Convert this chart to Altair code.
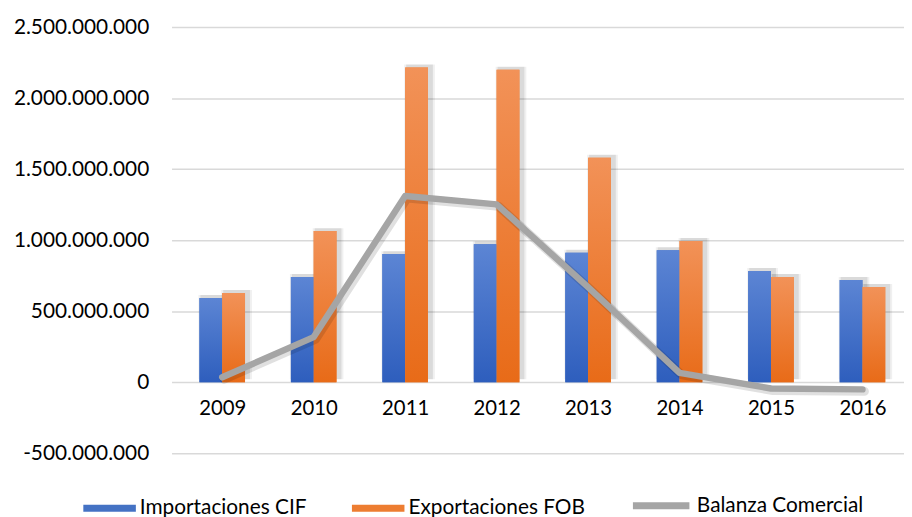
import altair as alt
import pandas as pd

years = [2009, 2010, 2011, 2012, 2013, 2014, 2015, 2016]
importaciones = [594e6, 741e6, 902e6, 972e6, 912e6, 930e6, 783e6, 720e6]
exportaciones = [629e6, 1064e6, 2216e6, 2200e6, 1580e6, 994e6, 741e6, 671e6]
balanza = [35e6, 318e6, 1311e6, 1252e6, 670e6, 66e6, -44e6, -50e6]
y_ticks = [-500e6, 0, 500e6, 1000e6, 1500e6, 2000e6, 2500e6]
series_names = ["Importaciones CIF", "Exportaciones FOB", "Balanza Comercial"]

df = pd.DataFrame({"year": years, "imp": importaciones, "exp": exportaciones, "bal": balanza})

FONT = "Lato"
label_expr = "replace(replace(format(datum.value, ','), regexp(',', 'g'), '.'), '\u2212', '-')"

x_enc = alt.X(
    "year:Q",
    scale=alt.Scale(domain=[2008.5, 2016.4], nice=False, zero=False),
    axis=alt.Axis(values=years, format="d", grid=False, domain=False, ticks=False,
                  offset=-71.7, labelPadding=17, labelFontSize=20.5, labelFont=FONT,
                  labelColor="#000000", labelFlush=False, title=None),
)

def y_enc(field):
    return alt.Y(
        f"{field}:Q",
        scale=alt.Scale(domain=[-500e6, 2500e6], nice=False),
        axis=alt.Axis(values=y_ticks, labelExpr=label_expr, domain=False, ticks=False,
                      grid=True, gridColor="#D9D9D9", gridWidth=1.5, labelPadding=23,
                      labelFontSize=21, labelFont=FONT, labelColor="#000000", title=None),
    )

base = alt.Chart(df).encode(x=x_enc)

BAR_W = 23
rect_path = "M-1,-0.135L1,-0.135L1,0.135L-1,0.135Z"

def grad(top, bottom):
    return alt.Gradient(gradient="linear", x1=0, x2=0, y1=0, y2=1,
                        stops=[alt.GradientStop(color=top, offset=0),
                               alt.GradientStop(color=bottom, offset=1)])

def legend(x, y, **kw):
    return alt.Legend(orient="none", legendX=x, legendY=y, title=None, labelOffset=4,
                      labelLimit=400, labelFontSize=21, labelFont=FONT, labelColor="#000000", **kw)

layers = []
# soft shadows
for field, xo in (("imp", -BAR_W / 2), ("exp", BAR_W / 2)):
    for s, o, op in ((BAR_W + 8, 3, 0.06), (BAR_W + 4, 3, 0.09)):
        layers.append(base.mark_bar(size=s, xOffset=xo + o, yOffset=-o, color="#000000",
                                    opacity=op).encode(y=y_enc(field)))

imp_solid = base.mark_bar(size=BAR_W, xOffset=-BAR_W / 2).transform_calculate(
    s_imp=f"'{series_names[0]}'"
).encode(
    y=y_enc("imp"),
    fill=alt.Fill("s_imp:N", scale=alt.Scale(domain=[series_names[0]], range=["#4472C4"]),
                  legend=legend(-89, 459, symbolType=rect_path, symbolSize=2809, symbolStrokeWidth=0)),
)
exp_solid = base.mark_bar(size=BAR_W, xOffset=BAR_W / 2).transform_calculate(
    s_exp=f"'{series_names[1]}'"
).encode(
    y=y_enc("exp"),
    color=alt.Color("s_exp:N", scale=alt.Scale(domain=[series_names[1]], range=["#ED7D31"]),
                    legend=legend(182, 459, symbolType=rect_path, symbolSize=2809, symbolStrokeWidth=0)),
)
imp_grad = base.mark_bar(size=BAR_W, xOffset=-BAR_W / 2, fill=grad("#5C85D4", "#2E5EBD")).encode(y=y_enc("imp"))
exp_grad = base.mark_bar(size=BAR_W, xOffset=BAR_W / 2, fill=grad("#F29258", "#E86B18")).encode(y=y_enc("exp"))

line_shadow = base.mark_line(strokeWidth=9, color="#000000", opacity=0.12, xOffset=2, yOffset=2,
                             strokeCap="round", strokeJoin="round").encode(y=y_enc("bal"))
line = base.mark_line(strokeWidth=6.5, strokeCap="round", strokeJoin="round").transform_calculate(
    s_bal=f"'{series_names[2]}'"
).encode(
    y=y_enc("bal"),
    stroke=alt.Stroke("s_bal:N", scale=alt.Scale(domain=[series_names[2]], range=["#A5A5A5"]),
                      legend=legend(462, 451, symbolType="stroke", symbolSize=3249, symbolStrokeWidth=7)),
)

layers += [imp_solid, exp_solid, imp_grad, exp_grad, line_shadow, line]

chart = alt.layer(*layers).properties(
    width=739, height=430,
    autosize=alt.AutoSizeParams(type="none"),
    padding={"left": 165, "top": 17, "right": 0, "bottom": 62},
).configure_view(stroke=None)

chart.save("out.html", embed_options={"renderer": "svg", "actions": False})
